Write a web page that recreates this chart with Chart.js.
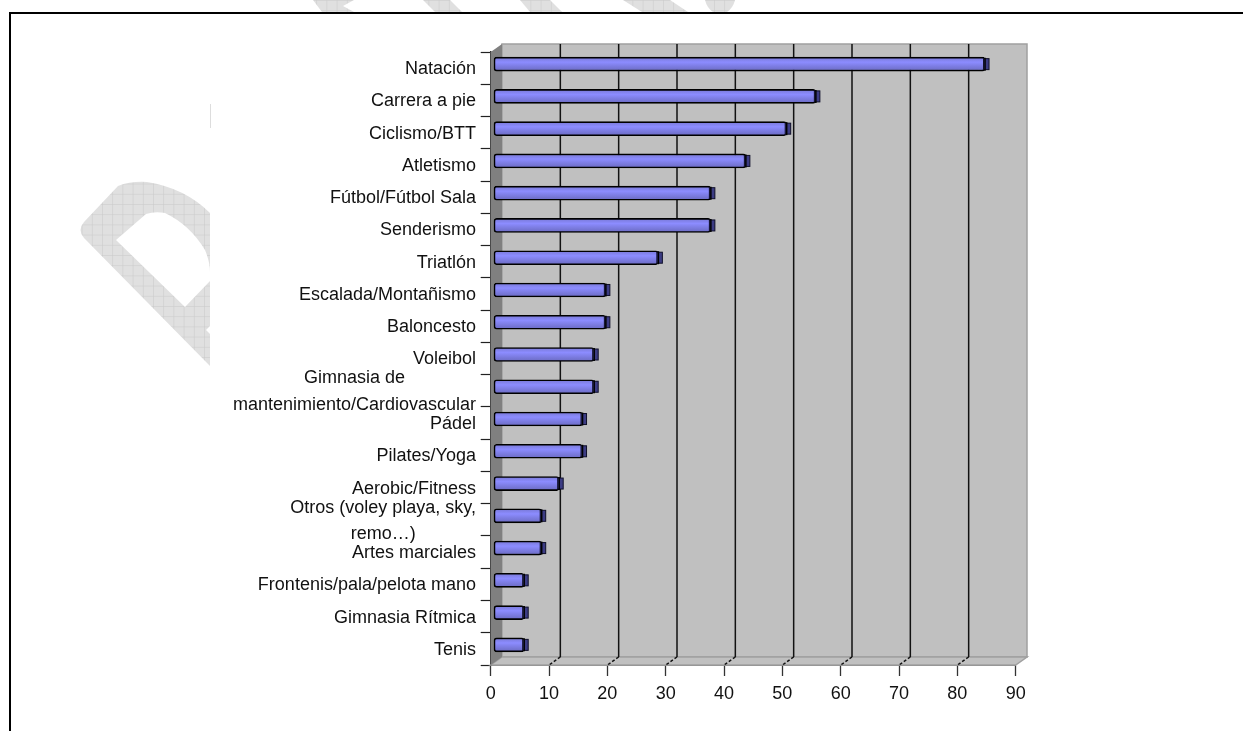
<!DOCTYPE html>
<html>
<head>
<meta charset="utf-8">
<title>Deportes</title>
<script src="https://cdn.jsdelivr.net/npm/chart.js@4/dist/chart.umd.min.js"></script>
<style>
    html, body { margin: 0; padding: 0; background: #fff; overflow: hidden; }
    #watermark, #sportsChart { position: absolute; left: 0; top: 0; }
</style>
</head>
<body>
<!-- grey watermark and page frame behind the chart -->
<svg id="watermark" width="1243" height="731">
    <defs>
        <pattern id="mesh" width="10.2" height="10.2" patternUnits="userSpaceOnUse">
            <rect width="10.2" height="10.2" fill="#e0e0e0"/>
            <path d="M0 0H10.2M0 0V10.2" stroke="#c9c9c9" stroke-width="1"/>
        </pattern>
    </defs>
    <g fill="url(#mesh)">
        <path fill-rule="evenodd" d="M84 222L118 186Q131 181 147 182Q185 188 210 213L210 326L206 330L210 334L210 366L84 238Q77 230 84 222Z M116 240L146 214Q155 211 165 213Q190 225 205 250Q210 262 210 272L210 281L185 307Z"/>
        <polygon points="313,0 354,0 343,6 354,12 322,12"/>
        <polygon points="423,0 450,0 462,12 435,12"/>
        <polygon points="520,0 550,0 562,12 530,12"/>
        <polygon points="623,0 670,0 688,12 642,12"/>
        <path d="M705 0H735Q733 8 727 12H713Q707 8 705 0Z"/>
    </g>
    <line x1="210.5" y1="104" x2="210.5" y2="128" stroke="#dddddd"/>
    <path d="M10 731V13H1243" fill="none" stroke="#000" stroke-width="2"/>
</svg>
<canvas id="sportsChart" width="1243" height="731"></canvas>

<script>
var categories = [
    ['Natación'], ['Carrera a pie'], ['Ciclismo/BTT'], ['Atletismo'],
    ['Fútbol/Fútbol Sala'], ['Senderismo'], ['Triatlón'], ['Escalada/Montañismo'],
    ['Baloncesto'], ['Voleibol'], ['Gimnasia de', 'mantenimiento/Cardiovascular'],
    ['Pádel'], ['Pilates/Yoga'], ['Aerobic/Fitness'],
    ['Otros (voley playa, sky,', 'remo…)'], ['Artes marciales'],
    ['Frontenis/pala/pelota mano'], ['Gimnasia Rítmica'], ['Tenis']
];
var values = [85, 56, 51, 44, 38, 38, 29, 20, 20, 18, 18, 16, 16, 12, 9, 9, 6, 6, 6];
var xTicks = [0, 10, 20, 30, 40, 50, 60, 70, 80, 90];

var depthX = 11.3;
var depthY = 8;
var barShiftX = -1.5;
var barShiftY = -4;
var labelFont = '18px "Liberation Sans", Arial, sans-serif';

// the box: back wall, left wall, floor and the grid lines on them
var boxPlugin = {
    id: 'box',
    beforeDatasetsDraw: function(chart) {
        var c = chart.ctx, a = chart.chartArea, x = chart.scales.x;
        function poly(points, fill, stroke) {
            c.beginPath();
            points.forEach(function(p, i) { i ? c.lineTo(p[0], p[1]) : c.moveTo(p[0], p[1]); });
            c.closePath();
            c.fillStyle = fill;
            c.fill();
            if (stroke) { c.strokeStyle = stroke; c.lineWidth = 1.5; c.stroke(); }
        }
        c.save();
        poly([[a.left + depthX, a.top - depthY], [a.right + depthX, a.top - depthY],
              [a.right + depthX, a.bottom - depthY], [a.left + depthX, a.bottom - depthY]], '#c0c0c0', '#a0a0a0');
        poly([[a.left, a.bottom], [a.left + depthX, a.bottom - depthY],
              [a.right + depthX, a.bottom - depthY], [a.right, a.bottom]], '#c0c0c0', '#a0a0a0');
        poly([[a.left, a.top], [a.left + depthX, a.top - depthY],
              [a.left + depthX, a.bottom - depthY], [a.left, a.bottom]], '#808080');
        c.strokeStyle = '#111';
        c.lineWidth = 1.5;
        xTicks.slice(1, -1).forEach(function(t) {
            var px = x.getPixelForValue(t);
            c.setLineDash([]);
            c.beginPath();
            c.moveTo(px + depthX, a.top - depthY);
            c.lineTo(px + depthX, a.bottom - depthY);
            c.stroke();
            c.setLineDash([3, 2]);
            c.beginPath();
            c.moveTo(px + depthX, a.bottom - depthY);
            c.lineTo(px, a.bottom);
            c.stroke();
        });
        c.restore();

        // bars float a little inside the box
        c.save();
        c.translate(barShiftX, barShiftY);
    },
    afterDatasetsDraw: function(chart) {
        var c = chart.ctx;
        // dark end cap of every bar
        chart.getDatasetMeta(0).data.forEach(function(bar) {
            c.fillStyle = '#3c3c84';
            c.strokeStyle = '#10102a';
            c.lineWidth = 1;
            c.fillRect(bar.x - 1.5, bar.y - 5.5, 5.5, 11);
            c.strokeRect(bar.x - 1.5, bar.y - 5.5, 5.5, 11);
            c.beginPath();
            c.moveTo(bar.x, bar.y - 6.5);
            c.lineTo(bar.x, bar.y + 6.5);
            c.lineWidth = 1.5;
            c.strokeStyle = '#000';
            c.stroke();
        });
        c.restore();
    },
    // category names, multi-line ones are centred as a block
    afterDraw: function(chart) {
        var c = chart.ctx, y = chart.scales.y, right = 476;
        c.save();
        c.font = labelFont;
        c.fillStyle = '#111';
        c.textBaseline = 'middle';
        c.textAlign = 'center';
        categories.forEach(function(lines, i) {
            var w = Math.max.apply(null, lines.map(function(l) { return c.measureText(l).width; }));
            var mid = y.getPixelForValue(i) + 1;
            lines.forEach(function(l, j) {
                c.fillText(l, right - w / 2, mid + (j - (lines.length - 1) / 2) * 26.5);
            });
        });
        c.restore();
    }
};

var ctx = document.getElementById('sportsChart').getContext('2d');
var sportsChart = new Chart(ctx, {
    type: 'bar',
    plugins: [boxPlugin],
    data: {
        labels: categories,
        datasets: [{
            data: values,
            base: 0.82,
            barThickness: 14,
            borderColor: '#000',
            borderWidth: 1.6,
            borderSkipped: false,
            borderRadius: 3,
            backgroundColor: function(context) {
                var py = context.chart.scales.y.getPixelForValue(context.dataIndex);
                if (!isFinite(py)) return '#8c8cff';
                var g = context.chart.ctx.createLinearGradient(0, py - 6.5, 0, py + 6.5);
                g.addColorStop(0, '#7a7ad8');
                g.addColorStop(0.35, '#8c8cff');
                g.addColorStop(1, '#6c6cc4');
                return g;
            }
        }]
    },
    options: {
        indexAxis: 'y',
        responsive: false,
        animation: false,
        devicePixelRatio: 1,
        layout: { padding: { left: 0, top: 52, right: 227.3, bottom: 26 } },
        plugins: { legend: { display: false }, tooltip: { enabled: false } },
        scales: {
            x: {
                min: 0,
                max: 90,
                afterFit: function(scale) { scale.height = 40; },
                afterBuildTicks: function(scale) { scale.ticks = xTicks.map(function(v) { return { value: v }; }); },
                border: { color: '#000', width: 1.5 },
                grid: { drawOnChartArea: false, tickLength: 11, color: '#333', tickWidth: 1.3 },
                ticks: { color: '#111', padding: 7, maxRotation: 0, font: { family: '"Liberation Sans", Arial, sans-serif', size: 18 } }
            },
            y: {
                afterFit: function(scale) { scale.width = 490.7; },
                border: { color: '#333', width: 1.5 },
                grid: { drawOnChartArea: false, tickLength: 10, color: '#222', tickWidth: 1.2 },
                ticks: { display: false }
            }
        }
    }
});
</script>
</body>
</html>
